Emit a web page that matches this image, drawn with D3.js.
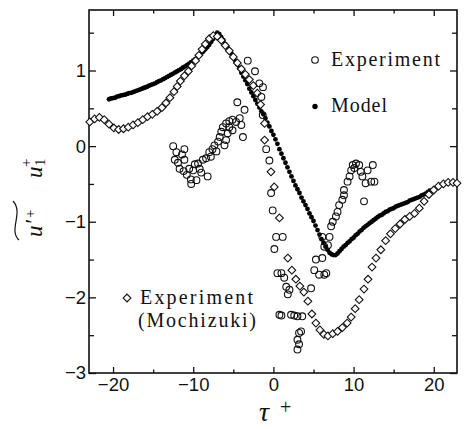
<!DOCTYPE html>
<html>
<head>
<meta charset="utf-8">
<script src="https://cdn.jsdelivr.net/npm/d3@7/dist/d3.min.js"></script>
<style>
  body { margin: 0; background: #fff; }
  svg { display: block; }
</style>
</head>
<body>
<div id="chart"></div>
<script>
// model: [tau+, u+]
const model = [
  [-20.5,0.62],[-20.25,0.63],[-20,0.635],[-19.75,0.64],[-19.5,0.655],[-19.25,0.66],[-19,0.67],[-18.75,0.675],
  [-18.5,0.68],[-18.25,0.69],[-18,0.70],[-17.75,0.705],[-17.5,0.715],[-17.25,0.725],[-17,0.735],[-16.75,0.745],
  [-16.5,0.755],[-16.25,0.765],[-16,0.775],[-15.75,0.785],[-15.5,0.80],[-15.25,0.81],[-15,0.82],[-14.75,0.83],
  [-14.5,0.845],[-14.25,0.86],[-14,0.87],[-13.75,0.885],[-13.5,0.90],[-13.25,0.915],[-13,0.93],[-12.75,0.945],
  [-12.5,0.96],[-12.25,0.975],[-12,0.99],[-11.75,1.005],[-11.5,1.02],[-11.25,1.04],[-11,1.055],[-10.75,1.075],
  [-10.5,1.09],[-10.25,1.11],[-10,1.13],[-9.75,1.15],[-9.5,1.175],[-9.25,1.20],[-9,1.225],[-8.75,1.25],
  [-8.5,1.28],[-8.25,1.31],[-8,1.34],[-7.75,1.38],[-7.5,1.42],[-7.25,1.46],[-7,1.50],[-6.75,1.48],
  [-6.5,1.44],[-6.25,1.40],[-6,1.35],[-5.75,1.31],[-5.5,1.27],[-5.25,1.22],[-5,1.18],[-4.75,1.13],
  [-4.5,1.08],[-4.25,1.03],[-4,0.97],[-3.75,0.92],[-3.5,0.87],[-3.25,0.82],[-3,0.76],[-2.75,0.71],
  [-2.5,0.66],[-2.25,0.61],[-2,0.56],[-1.75,0.51],[-1.5,0.46],[-1.25,0.42],[-1,0.37],[-0.75,0.31],
  [-0.5,0.26],[-0.25,0.20],[0,0.15],[0.25,0.09],[0.5,0.03],[0.75,-0.04],[1,-0.10],[1.25,-0.16],
  [1.5,-0.22],[1.75,-0.28],[2,-0.34],[2.25,-0.40],[2.5,-0.46],[2.75,-0.52],[3,-0.57],[3.25,-0.62],
  [3.5,-0.68],[3.75,-0.73],[4,-0.78],[4.25,-0.83],[4.5,-0.89],[4.75,-0.94],[5,-0.99],[5.25,-1.05],
  [5.5,-1.11],[5.75,-1.17],[6,-1.23],[6.25,-1.28],[6.5,-1.33],[6.75,-1.37],[7,-1.41],[7.25,-1.43],
  [7.5,-1.44],[7.75,-1.44],[8,-1.42],[8.25,-1.39],[8.5,-1.36],[8.75,-1.33],[9,-1.31],[9.25,-1.28],
  [9.5,-1.26],[9.75,-1.23],[10,-1.21],[10.25,-1.18],[10.5,-1.16],[10.75,-1.13],[11,-1.11],[11.25,-1.08],
  [11.5,-1.06],[11.75,-1.04],[12,-1.02],[12.25,-1.00],[12.5,-0.98],[12.75,-0.96],[13,-0.94],[13.25,-0.92],
  [13.5,-0.91],[13.75,-0.89],[14,-0.87],[14.25,-0.86],[14.5,-0.84],[14.75,-0.83],[15,-0.82],[15.25,-0.80],
  [15.5,-0.79],[15.75,-0.78],[16,-0.77],[16.25,-0.76],[16.5,-0.75],[16.75,-0.74],[17,-0.72],[17.25,-0.71],
  [17.5,-0.70],[17.75,-0.69],[18,-0.68],[18.25,-0.67],[18.5,-0.65],[18.75,-0.64],[19,-0.63],[19.25,-0.61],
  [19.5,-0.59]
]

// experiment (Mochizuki), diamonds
const mochizuki = [
  [-22.9,0.32],[-22.3,0.36],[-21.7,0.38],[-21.1,0.35],[-20.5,0.29],[-19.9,0.24],[-19.3,0.22],[-18.7,0.23],
  [-18.1,0.25],[-17.5,0.28],[-16.9,0.31],[-16.3,0.35],[-15.7,0.39],[-15.1,0.42],[-14.5,0.46],[-13.9,0.51],
  [-13.4,0.57],[-12.9,0.64],[-12.4,0.72],[-12.0,0.79],[-11.6,0.86],[-11.1,0.93],[-10.6,0.99],[-10.2,1.06],
  [-9.7,1.13],[-9.3,1.20],[-8.9,1.28],[-8.5,1.35],[-8.0,1.42],[-7.5,1.46],[-7.0,1.45],[-6.5,1.40],
  [-6.0,1.33],[-5.5,1.26],[-5.0,1.18],[-4.5,1.10],[-4.0,1.02],[-3.5,0.95],[-3.0,0.88],[-2.5,0.80],
  [-2.0,0.70],[-1.6,0.55],[-1.1,0.30],[-1.1,0.08],[-0.3,-0.34],[0.1,-0.54],[0.75,-0.95],[1.8,-1.48],
  [2.3,-1.64],[2.8,-1.76],[3.3,-1.85],[3.8,-1.93],[4.3,-2.05],[4.8,-2.22],[5.3,-2.34],[5.8,-2.43],
  [6.3,-2.49],[6.8,-2.51],[7.4,-2.48],[8.0,-2.45],[8.6,-2.40],[9.2,-2.34],[9.7,-2.26],[10.2,-2.15],
  [10.7,-2.03],[11.3,-1.89],[11.8,-1.76],[12.3,-1.60],[12.8,-1.48],[13.4,-1.37],[14.0,-1.25],[14.6,-1.16],
  [15.2,-1.09],[15.8,-1.03],[16.4,-0.97],[17.0,-0.93],[17.6,-0.89],[18.2,-0.82],[18.8,-0.73],[19.4,-0.64],
  [20.0,-0.58],[20.6,-0.53],[21.2,-0.50],[21.8,-0.48],[22.4,-0.48],[22.9,-0.49]
]

// experiment, circles
const experiment = [
  [-12.5,0.0],[-12.1,-0.08],[-12.3,-0.18],[-11.9,-0.22],[-11.7,-0.30],[-11.4,-0.11],[-11.1,-0.04],[-11.1,-0.18],
  [-11.2,-0.33],[-10.8,-0.38],[-10.5,-0.30],[-10.3,-0.44],[-10.25,-0.50],[-10.0,-0.32],[-9.8,-0.24],[-9.6,-0.45],
  [-9.4,-0.23],[-9.2,-0.30],[-9.0,-0.35],[-8.8,-0.18],[-8.4,-0.16],[-8.2,-0.40],[-8.0,-0.08],[-7.8,-0.14],
  [-7.6,-0.04],[-7.35,0.01],[-7.1,-0.07],[-6.9,0.06],[-6.7,0.12],[-6.5,0.19],[-6.3,0.25],[-6.1,0.01],
  [-5.9,0.08],[-5.9,0.30],[-5.7,0.17],[-5.5,0.25],[-5.5,0.33],[-5.1,0.21],[-5.1,0.35],[-4.65,0.32],
  [-4.2,0.37],[-4.0,0.28],[-3.8,0.12],
  [-4.5,0.58],[-3.6,0.48],[-3.2,1.13],[-2.3,0.99],[-1.75,0.83],[-1.3,0.78],[-1.5,0.65],[-1.33,0.41],
  [-0.9,-0.04],[-0.5,-0.19],[-0.29,-0.62],[-0.09,-0.85],[0.34,-1.20],[1.16,-1.20],[0.12,-1.36],[0.5,-1.68],
  [1.0,-1.68],[1.35,-1.74],[1.6,-1.86],[2.0,-1.90],[1.8,-1.96],[0.75,-2.23],[1.0,-2.24],[2.2,-2.23],
  [2.6,-2.24],[3.0,-2.25],[3.6,-2.25],[3.45,-2.45],[3.2,-2.47],[3.0,-2.56],[3.2,-2.62],[3.0,-2.69],
  [4.7,-1.88],[5.1,-1.64],[5.3,-1.50],[5.7,-1.70],[6.35,-1.70],[6.6,-1.68],[6.1,-1.48],[6.35,-1.33],
  [6.8,-1.31],[6.1,-1.20],[7.0,-1.20],[7.2,-1.06],[7.4,-1.0],[7.8,-0.93],[8.0,-0.87],[8.2,-0.78],
  [8.6,-0.71],[8.8,-0.65],[8.8,-0.58],[9.25,-0.47],[9.5,-0.40],[9.7,-0.32],[9.9,-0.25],[10.1,-0.29],
  [10.3,-0.23],[10.7,-0.25],[10.9,-0.34],[11.1,-0.40],[11.5,-0.49],[11.75,-0.32],[12.2,-0.47],[12.4,-0.25],
  [12.6,-0.47],[11.3,-0.73]
]

const xMajor = [-20,-10,0,10,20]
const xMinor = [-15,-5,5,15]
const yMajor = [-3,-2,-1,0,1]
const yMinor = [-2.5,-1.5,-0.5,0.5,1.5]

const W = 465, H = 429
const box = {left: 89, right: 457, top: 10, bottom: 373}
const SANS = "Liberation Sans"
const SERIF = "Liberation Serif"

const svg = d3.select("#chart").append("svg").attr("width", W).attr("height", H)

const x = d3.scaleLinear().domain([-23, 22.9]).range([box.left, box.right])
const y = d3.scaleLinear().domain([-3, 1.8]).range([box.bottom, box.top])

// ticks, all pointing inward
function tickAxis(axisFn, scale, values, size, labels, pad){
  const a = axisFn(scale).tickValues(values).tickSizeInner(-size).tickSizeOuter(0).tickPadding(pad || 3)
  a.tickFormat(labels ? d3.format("d") : "")
  return a
}
function styleAxis(g){
  g.attr("font-family", SANS).attr("font-size", 18.5)
  g.select(".domain").remove()
  g.selectAll("line").attr("stroke", "#111").attr("stroke-width", 1.3)
  g.selectAll("text").attr("fill", "#111")
}

svg.append("g").attr("transform", `translate(0,${box.bottom})`)
  .call(tickAxis(d3.axisBottom, x, xMajor, 6, true, 5)).call(styleAxis)
svg.append("g").attr("transform", `translate(0,${box.bottom})`)
  .call(tickAxis(d3.axisBottom, x, xMinor, 3.5, false)).call(styleAxis)
svg.append("g").attr("transform", `translate(0,${box.top})`)
  .call(tickAxis(d3.axisTop, x, xMajor, 6, false)).call(styleAxis)
svg.append("g").attr("transform", `translate(0,${box.top})`)
  .call(tickAxis(d3.axisTop, x, xMinor, 3.5, false)).call(styleAxis)
svg.append("g").attr("transform", `translate(${box.left},0)`)
  .call(tickAxis(d3.axisLeft, y, yMajor, 7, true, 3)).call(styleAxis)
svg.append("g").attr("transform", `translate(${box.left},0)`)
  .call(tickAxis(d3.axisLeft, y, yMinor, 5, false)).call(styleAxis)
svg.append("g").attr("transform", `translate(${box.right},0)`)
  .call(tickAxis(d3.axisRight, y, yMajor, 7, false)).call(styleAxis)
svg.append("g").attr("transform", `translate(${box.right},0)`)
  .call(tickAxis(d3.axisRight, y, yMinor, 5, false)).call(styleAxis)

svg.append("rect").attr("x", box.left).attr("y", box.top)
  .attr("width", box.right - box.left).attr("height", box.bottom - box.top)
  .attr("fill", "none").attr("stroke", "#111").attr("stroke-width", 1.6)

// data marks
const diamond = d3.symbol().type(d3.symbolSquare).size(30)

svg.append("g").selectAll("circle").data(model).enter().append("circle")
  .attr("cx", d => x(d[0])).attr("cy", d => y(d[1])).attr("r", 2.4).attr("fill", "#000")

svg.append("g").selectAll("path").data(mochizuki).enter().append("path")
  .attr("d", diamond)
  .attr("transform", d => `translate(${x(d[0])},${y(d[1])}) rotate(45)`)
  .attr("fill", "#fff").attr("stroke", "#111").attr("stroke-width", 1.1)

svg.append("g").selectAll("circle").data(experiment).enter().append("circle")
  .attr("cx", d => x(d[0])).attr("cy", d => y(d[1])).attr("r", 3.4)
  .attr("fill", "none").attr("stroke", "#111").attr("stroke-width", 1.1)

// legend
const leg = svg.append("g").attr("font-family", SERIF).attr("font-size", 20).attr("fill", "#111")
leg.append("circle").attr("cx", 315).attr("cy", 60).attr("r", 3.3)
  .attr("fill", "none").attr("stroke", "#111").attr("stroke-width", 1.1)
leg.append("text").attr("x", 331).attr("y", 65.5)
  .attr("textLength", 109).attr("lengthAdjust", "spacing").text("Experiment")
leg.append("circle").attr("cx", 315).attr("cy", 106.5).attr("r", 2.7).attr("fill", "#000")
leg.append("text").attr("x", 331).attr("y", 111.5)
  .attr("textLength", 56).attr("lengthAdjust", "spacing").text("Model")
leg.append("path").attr("d", diamond)
  .attr("transform", "translate(127,298) rotate(45)")
  .attr("fill", "#fff").attr("stroke", "#111").attr("stroke-width", 1.1)
leg.append("text").attr("x", 140).attr("y", 303.5)
  .attr("textLength", 113).attr("lengthAdjust", "spacing").text("Experiment")
leg.append("text").attr("x", 138).attr("y", 327)
  .attr("textLength", 118).attr("lengthAdjust", "spacing").text("(Mochizuki)")

// x axis title
const xt = svg.append("text").attr("font-family", SERIF).attr("x", 259).attr("y", 421).attr("fill", "#111")
xt.append("tspan").attr("font-size", 28).attr("font-style", "italic").text("τ")
xt.append("tspan").attr("x", 280).attr("y", 414).attr("font-size", 20).text("+")

// y axis title, rotated
const yg = svg.append("g").attr("transform", "translate(42,193) rotate(-90)")
const yt = yg.append("text").attr("font-family", SERIF).attr("font-size", 23).attr("fill", "#111")
yt.append("tspan").attr("x", -44).attr("y", 0).attr("font-style", "italic").text("u")
yt.append("tspan").attr("x", -32).attr("y", -1).attr("font-style", "italic").text("′")
yt.append("tspan").attr("x", -25).attr("y", -7).attr("font-size", 15).text("+")
yt.append("tspan").attr("x", 15).attr("y", 0).attr("font-style", "italic").text("u")
yt.append("tspan").attr("x", 27).attr("y", 3).attr("font-size", 15).text("1")
yt.append("tspan").attr("x", 26).attr("y", -11).attr("font-size", 15).text("+")
yg.append("path").attr("d", "M-47,-23 C-37,-34 -20,-18 -8,-29")
  .attr("fill", "none").attr("stroke", "#111").attr("stroke-width", 1.2)
</script>
</body>
</html>
